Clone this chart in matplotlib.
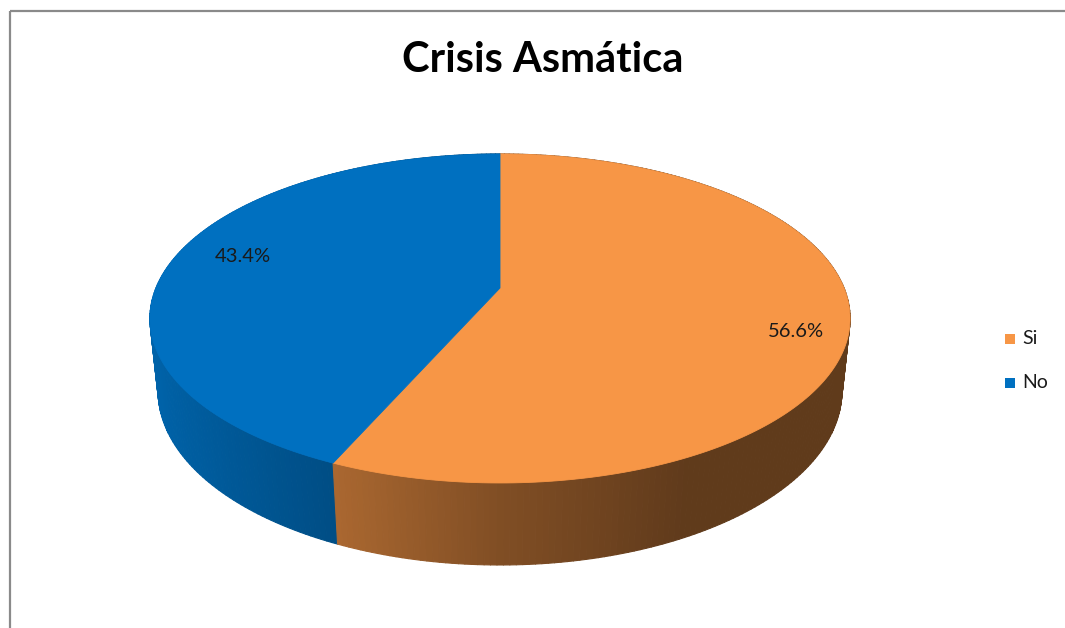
import numpy as np
import matplotlib.pyplot as plt
from matplotlib.collections import PolyCollection
from matplotlib.patches import Polygon, Rectangle
from matplotlib.colors import to_rgb

plt.rcParams['font.family'] = ['Lato', 'DejaVu Sans']

# data
labels = ['Si', 'No']
values = [56.6, 43.4]
colors = ['#F79646', '#0070C0']
title = 'Crisis Asmática'

# 3D pie camera (pixel space)
tilt = np.radians(27.5)
ct, st = np.cos(tilt), np.sin(tilt)
dist, focal = 4.79, 1648.0
cx, cy = 500.0, 288.0
thick = 0.24

def project(phi, r=1.0, h=0.0):
    # phi measured clockwise from the back of the disc
    u = r * np.sin(phi)
    v = r * np.cos(phi)
    yc = v * st + h * ct
    z = dist + v * ct - h * st
    return cx + focal * u / z, cy - focal * yc / z

def shade(u):
    # light from the left: darker as the wall turns right
    return np.interp(u, [-1, -0.4, 0, 0.45, 1], [0.9, 0.69, 0.52, 0.39, 0.39])

fig = plt.figure(figsize=(10.65, 6.28), dpi=100)
ax = fig.add_axes([0, 0, 1, 1])
ax.set_xlim(0, 1065)
ax.set_ylim(628, 0)
ax.axis('off')

fracs = np.array(values) / sum(values)
edges = np.concatenate([[0], np.cumsum(fracs)]) * 2 * np.pi

# side wall strips
quads, fcs, key = [], [], []
for i in range(len(values)):
    phis = np.linspace(edges[i], edges[i + 1], int(400 * fracs[i]) + 2)
    base = np.array(to_rgb(colors[i]))
    for a, b in zip(phis[:-1], phis[1:]):
        quads.append([project(a), project(b), project(b, h=-thick), project(a, h=-thick)])
        m = (a + b) / 2
        fcs.append(np.clip(base * shade(np.sin(m)), 0, 1))
        key.append(np.cos(m))
order = np.argsort(key)[::-1]
side = PolyCollection([quads[k] for k in order],
                      facecolors=[fcs[k] for k in order],
                      edgecolors=[fcs[k] for k in order], linewidths=0.8)
ax.add_collection(side)

# top faces
for i in range(len(values)):
    phis = np.linspace(edges[i], edges[i + 1], 200)
    pts = [project(0, r=0)] + [project(p) for p in phis]
    ax.add_patch(Polygon(pts, closed=True, facecolor=colors[i],
                         edgecolor=colors[i], linewidth=0.6))

# percentage labels
label_r = [0.85, 0.75]
nudge = [(0, 15), (-12, -8)]
for i in range(len(values)):
    mid = (edges[i] + edges[i + 1]) / 2
    x, y = project(mid, r=label_r[i])
    ax.text(x + nudge[i][0], y + nudge[i][1], f'{values[i]:.1f}%',
            ha='center', va='center', fontsize=14.5, color='#1a1a1a')

# legend
for i, lab in enumerate(labels):
    ly = 339 + 44 * i
    ax.add_patch(Rectangle((1005, ly - 5), 10, 10, facecolor=colors[i], edgecolor='none'))
    ax.text(1022, ly, lab, ha='left', va='center', fontsize=14, color='#1a1a1a')

ax.text(543, 60, title, ha='center', va='center', fontsize=30,
        fontweight='bold', color='black')

# chart frame
ax.add_patch(Rectangle((10, 11), 1200, 800, fill=False, edgecolor='#8a8a8a', linewidth=1.6))

fig.savefig('out.png', dpi=100)
